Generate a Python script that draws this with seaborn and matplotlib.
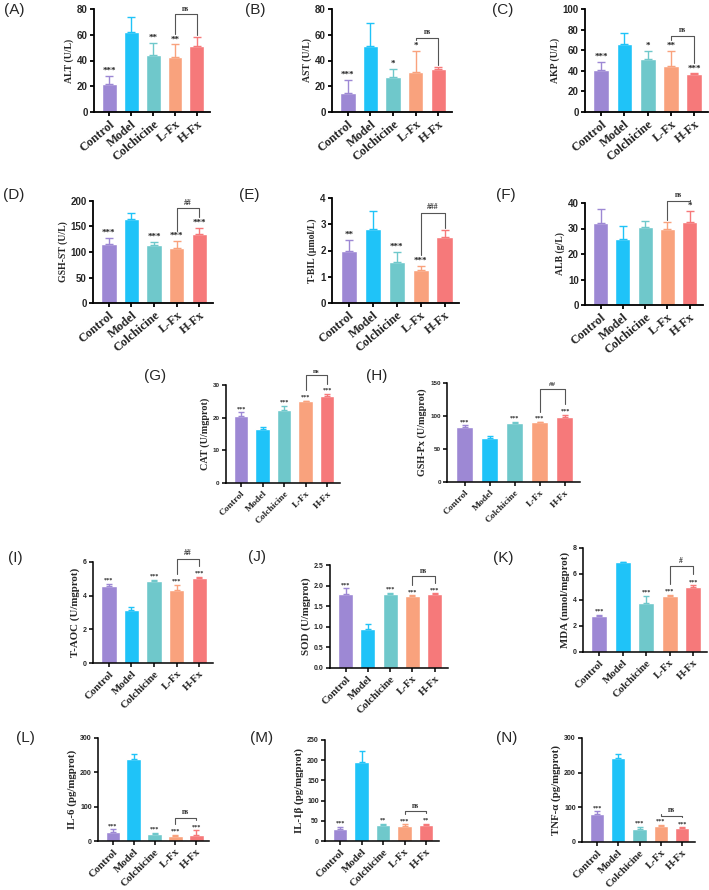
import numpy as np
import pandas as pd
import matplotlib
matplotlib.use("Agg")
import matplotlib.pyplot as plt
import seaborn as sns

sns.set_theme(style="ticks")
plt.rcParams["font.family"] = ["Liberation Serif", "DejaVu Serif"]

groups = ["Control", "Model", "Colchicine", "L-Fx", "H-Fx"]
colors = ["#9d88d4", "#1fc3f8", "#6fc8cb", "#f9a27d", "#f6797a"]

# ---- data (mean, sd, significance) ----
alt_mean = [22, 62, 44.5, 43, 51]
alt_sd = [6, 12, 9, 9.5, 7]
alt_sig = ["***", "", "**", "**", ""]

ast_mean = [15, 51, 27.5, 31, 33.5]
ast_sd = [10, 18, 6, 16.5, 1.5]
ast_sig = ["***", "", "*", "*", ""]

akp_mean = [41, 66.5, 51.5, 44.5, 36.5]
akp_sd = [8, 10, 8, 15, 1]
akp_sig = ["***", "", "*", "**", "***"]

gshst_mean = [115, 165, 114, 108, 135]
gshst_sd = [13, 12, 5, 13, 12]
gshst_sig = ["***", "", "***", "***", "***"]

tbil_mean = [1.97, 2.82, 1.58, 1.27, 2.5]
tbil_sd = [0.43, 0.7, 0.35, 0.15, 0.27]
tbil_sig = ["**", "", "***", "***", ""]

alb_mean = [32, 26, 30.5, 29.7, 32.5]
alb_sd = [5.5, 5, 2.3, 2.8, 4.3]
alb_sig = ["", "", "", "", "*"]

cat_mean = [20.5, 16.5, 22.5, 25, 26.5]
cat_sd = [1.1, 0.5, 1.2, 0.2, 0.8]
cat_sig = ["***", "", "***", "***", "***"]

gshpx_mean = [84, 66, 90, 90.5, 99]
gshpx_sd = [2, 3, 1, 0.5, 3]
gshpx_sig = ["***", "", "***", "***", "***"]

taoc_mean = [4.55, 3.15, 4.85, 4.35, 5.02]
taoc_sd = [0.15, 0.15, 0.08, 0.3, 0.1]
taoc_sig = ["***", "", "***", "***", "***"]

sod_mean = [1.8, 0.94, 1.8, 1.74, 1.79]
sod_sd = [0.13, 0.12, 0.02, 0.02, 0.02]
sod_sig = ["***", "", "***", "***", "***"]

mda_mean = [2.78, 6.9, 3.8, 4.3, 4.98]
mda_sd = [0.08, 0.06, 0.5, 0.1, 0.15]
mda_sig = ["***", "", "***", "***", "***"]

il6_mean = [27, 240, 20, 16, 17]
il6_sd = [7, 12, 3, 2, 14]
il6_sig = ["***", "", "***", "***", "***"]

il1b_mean = [30, 195, 40, 38, 40]
il1b_sd = [5, 28, 2, 3, 2]
il1b_sig = ["***", "", "**", "***", "**"]

tnfa_mean = [81, 241, 38, 46, 40]
tnfa_sd = [7, 14, 5, 4, 2]
tnfa_sig = ["***", "", "***", "***", "***"]

W, H = 709, 890
fig = plt.figure(figsize=(W / 100, H / 100), dpi=100)

TOP = dict(ytick=7, ylab=7, xtick=9, rot=40, sig=6.5, br=5.5, cap=3, lw=1.3)
MID = dict(ytick=4.5, ylab=7.3, xtick=6.8, rot=45, sig=4.5, br=5, cap=2.5, lw=1.1)
LOW = dict(ytick=5, ylab=7.8, xtick=7.8, rot=45, sig=4.5, br=5.5, cap=2.5, lw=1.1)


def panel(rect, mean, sd, sig, br_text, br_y, ylabel, yticks, label, lab_xy, st, fmt=None):
    x0, x1, yt, yb = rect
    ax = fig.add_axes([x0 / W, 1 - yb / H, (x1 - x0) / W, (yb - yt) / H])
    df = pd.DataFrame({"group": groups, "value": mean})
    sns.barplot(data=df, x="group", y="value", hue="group", palette=colors,
                legend=False, ax=ax, width=0.68, errorbar=None, saturation=1)
    for i in range(5):
        ax.errorbar(i, mean[i], yerr=[[0], [sd[i]]], fmt="none", ecolor=colors[i],
                    elinewidth=1, capsize=st["cap"], capthick=1)
    ymax = yticks[-1]
    ax.set_ylim(0, ymax)
    ax.set_xlim(-0.7, 4.6)
    ax.set_yticks(yticks)
    if fmt:
        ax.set_yticklabels([fmt.format(v) for v in yticks])
    for lbl in ax.get_yticklabels():
        lbl.set_fontfamily("Liberation Sans")
        lbl.set_fontweight("bold")
        lbl.set_fontsize(st["ytick"])
    ax.set_xticks(range(5))
    ax.set_xticklabels(groups, rotation=st["rot"], ha="right", rotation_mode="anchor",
                       fontsize=st["xtick"], fontweight="bold")
    ax.set_xlabel("")
    ax.set_ylabel(ylabel, fontsize=st["ylab"], fontweight="bold", labelpad=2)
    sns.despine(ax=ax)
    for s in ["left", "bottom"]:
        ax.spines[s].set_linewidth(st["lw"])
        ax.spines[s].set_color("black")
    ax.tick_params(axis="both", length=3, width=st["lw"], pad=1.5, color="black")
    tops = []
    for i in range(5):
        top = mean[i] + sd[i]
        y = top + 0.01 * ymax
        if sig[i]:
            ax.text(i, y, sig[i], ha="center", va="bottom", fontsize=st["sig"],
                    fontweight="bold", color="#222222")
            y += 0.085 * ymax
        tops.append(y + 0.01 * ymax)
    ax.plot([3, 3, 4, 4], [tops[3], br_y, br_y, tops[4]], color="#555555", lw=0.8,
            clip_on=False)
    ax.text(3.5, br_y + 0.015 * ymax, br_text, ha="center", va="bottom", fontsize=st["br"],
            fontweight="bold", color="#333333", clip_on=False)
    fig.text(lab_xy[0] / W, 1 - lab_xy[1] / H, label, ha="center", va="center",
             fontsize=11, fontfamily="Liberation Sans")
    return ax


panel((94, 210, 9, 112), alt_mean, alt_sd, alt_sig, "ns", 76, "ALT (U/L)",
      [0, 20, 40, 60, 80], "(A)", (14, 10), TOP)
panel((332, 452, 9, 112), ast_mean, ast_sd, ast_sig, "ns", 57.5, "AST (U/L)",
      [0, 20, 40, 60, 80], "(B)", (255, 10), TOP)
panel((585, 708, 9, 112), akp_mean, akp_sd, akp_sig, "ns", 74, "AKP (U/L)",
      [0, 20, 40, 60, 80, 100], "(C)", (503, 10), TOP)
panel((93, 213, 201, 303), gshst_mean, gshst_sd, gshst_sig, "##", 186, "GSH-ST (U/L)",
      [0, 50, 100, 150, 200], "(D)", (14, 195), TOP)
panel((332, 459, 198, 303), tbil_mean, tbil_sd, tbil_sig, "###", 3.43, "T-BIL (μmol/L)",
      [0, 1, 2, 3, 4], "(E)", (249, 195), TOP)
panel((585, 703, 203, 305), alb_mean, alb_sd, alb_sig, "ns", 40.8, "ALB (g/L)",
      [0, 10, 20, 30, 40], "(F)", (506, 195), TOP)
panel((226, 340, 385, 483), cat_mean, cat_sd, cat_sig, "ns", 33, "CAT (U/mgprot)",
      [0, 10, 20, 30], "(G)", (155, 376), MID)
panel((447, 580, 383, 482), gshpx_mean, gshpx_sd, gshpx_sig, "##", 141, "GSH-Px (U/mgprot)",
      [0, 50, 100, 150], "(H)", (377, 376), MID)
panel((93, 213, 562, 663), taoc_mean, taoc_sd, taoc_sig, "##", 6.2, "T-AOC (U/mgprot)",
      [0, 2, 4, 6], "(I)", (15, 558), LOW)
panel((330, 448, 565, 668), sod_mean, sod_sd, sod_sig, "ns", 2.23, "SOD (U/mgprot)",
      [0, 0.5, 1.0, 1.5, 2.0, 2.5], "(J)", (257, 557), LOW, fmt="{:.1f}")
panel((583, 707, 548, 652), mda_mean, mda_sd, mda_sig, "#", 6.6, "MDA (nmol/mgprot)",
      [0, 2, 4, 6, 8], "(K)", (503, 558), LOW)
panel((98, 209, 738, 841), il6_mean, il6_sd, il6_sig, "ns", 67, "IL-6 (pg/mgprot)",
      [0, 100, 200, 300], "(L)", (25, 738), LOW)
panel((325, 439, 740, 841), il1b_mean, il1b_sd, il1b_sig, "ns", 74, "IL-1β (pg/mgprot)",
      [0, 50, 100, 150, 200, 250], "(M)", (262, 738), LOW)
panel((582, 695, 738, 842), tnfa_mean, tnfa_sd, tnfa_sig, "ns", 75, "TNF-α (pg/mgprot)",
      [0, 100, 200, 300], "(N)", (507, 738), LOW)

fig.savefig("out.png", dpi=100, facecolor="white")
